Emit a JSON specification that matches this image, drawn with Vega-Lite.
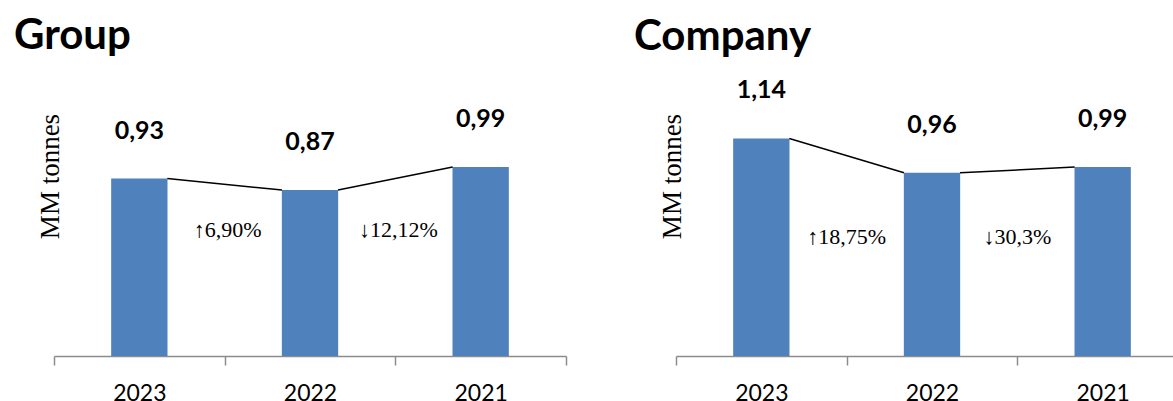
{
  "$schema": "https://vega.github.io/schema/vega-lite/v6.json",
  "padding": {"left": 14, "top": 15, "right": 0, "bottom": 0},
  "bounds": "flush",
  "spacing": 110,
  "config": {
    "view": {"stroke": null},
    "font": "Lato",
    "title": {"font": "Lato", "fontSize": 42, "fontWeight": "bold", "anchor": "start", "frame": "group", "color": "#000000", "baseline": "alphabetic"},
    "axisX": {"title": null, "domainColor": "#8c8c8c", "tickColor": "#8c8c8c", "tickSize": 9, "tickBand": "extent", "labelAngle": 0, "labelFont": "Lato", "labelFontSize": 23, "labelColor": "#000000", "labelPadding": 17, "domainWidth": 1.5, "tickWidth": 1.5},
    "axisY": {"domain": false, "ticks": false, "labels": false, "grid": false, "titleFont": "Liberation Serif", "titleFontSize": 27, "titleFontWeight": "normal", "titleColor": "#000000", "titleX": 10, "titleY": 49}
  },
  "datasets": {
    "group": [
      {"year": "2023", "value": 0.93, "label": "0,93"},
      {"year": "2022", "value": 0.87, "label": "0,87"},
      {"year": "2021", "value": 0.99, "label": "0,99"}
    ],
    "groupChange": [
      {"from": "2023", "to": "2022", "v1": 0.93, "v2": 0.87, "change": "↑6,90%"},
      {"from": "2022", "to": "2021", "v1": 0.87, "v2": 0.99, "change": "↓12,12%"}
    ],
    "company": [
      {"year": "2023", "value": 1.14, "label": "1,14"},
      {"year": "2022", "value": 0.96, "label": "0,96"},
      {"year": "2021", "value": 0.99, "label": "0,99"}
    ],
    "companyChange": [
      {"from": "2023", "to": "2022", "v1": 1.14, "v2": 0.96, "change": "↑18,75%"},
      {"from": "2022", "to": "2021", "v1": 0.96, "v2": 0.99, "change": "↓30,3%"}
    ]
  },
  "hconcat": [
    {
      "title": {"text": "Group", "dx": -40, "offset": 49},
      "width": 512,
      "height": 229,
      "layer": [
        {
          "data": {"name": "group"},
          "mark": {"type": "bar", "width": {"band": 0.33}, "color": "#4F81BD"},
          "encoding": {
            "x": {"field": "year", "type": "nominal", "scale": {"domain": ["2023", "2022", "2021"], "paddingInner": 0, "paddingOuter": 0}},
            "y": {"field": "value", "type": "quantitative", "scale": {"domain": [0, 1.2]}, "axis": {"title": "MM tonnes"}}
          }
        },
        {
          "data": {"name": "group"},
          "mark": {"type": "text", "font": "Lato", "fontWeight": "bold", "fontSize": 25, "baseline": "alphabetic", "dy": -40, "color": "#000000"},
          "encoding": {
            "x": {"field": "year", "type": "nominal"},
            "y": {"field": "value", "type": "quantitative"},
            "text": {"field": "label"}
          }
        },
        {
          "data": {"name": "groupChange"},
          "mark": {"type": "rule", "color": "#000000", "strokeWidth": 1.5, "xOffset": 28, "x2Offset": -28},
          "encoding": {
            "x": {"field": "from", "type": "nominal", "bandPosition": 0.5},
            "x2": {"field": "to", "bandPosition": 0.5},
            "y": {"field": "v1", "type": "quantitative"},
            "y2": {"field": "v2"}
          }
        },
        {
          "data": {"name": "groupChange"},
          "mark": {"type": "text", "font": "Liberation Serif", "fontSize": 22, "baseline": "middle", "dx": 3, "color": "#000000"},
          "encoding": {
            "x": {"field": "from", "type": "nominal", "bandPosition": 1},
            "y": {"datum": 0.66},
            "text": {"field": "change"}
          }
        }
      ]
    },
    {
      "title": {"text": "Company", "dx": -42, "offset": 19},
      "width": 512,
      "height": 229,
      "layer": [
        {
          "data": {"name": "company"},
          "mark": {"type": "bar", "width": {"band": 0.33}, "color": "#4F81BD"},
          "encoding": {
            "x": {"field": "year", "type": "nominal", "scale": {"domain": ["2023", "2022", "2021"], "paddingInner": 0, "paddingOuter": 0}},
            "y": {"field": "value", "type": "quantitative", "scale": {"domain": [0, 1.2]}, "axis": {"title": "MM tonnes"}}
          }
        },
        {
          "data": {"name": "company"},
          "mark": {"type": "text", "font": "Lato", "fontWeight": "bold", "fontSize": 25, "baseline": "alphabetic", "dy": -40, "color": "#000000"},
          "encoding": {
            "x": {"field": "year", "type": "nominal"},
            "y": {"field": "value", "type": "quantitative"},
            "text": {"field": "label"}
          }
        },
        {
          "data": {"name": "companyChange"},
          "mark": {"type": "rule", "color": "#000000", "strokeWidth": 1.5, "xOffset": 28, "x2Offset": -28},
          "encoding": {
            "x": {"field": "from", "type": "nominal", "bandPosition": 0.5},
            "x2": {"field": "to", "bandPosition": 0.5},
            "y": {"field": "v1", "type": "quantitative"},
            "y2": {"field": "v2"}
          }
        },
        {
          "data": {"name": "companyChange"},
          "mark": {"type": "text", "font": "Liberation Serif", "fontSize": 22, "baseline": "middle", "color": "#000000"},
          "encoding": {
            "x": {"field": "from", "type": "nominal", "bandPosition": 1},
            "y": {"datum": 0.625},
            "text": {"field": "change"}
          }
        }
      ]
    }
  ]
}
